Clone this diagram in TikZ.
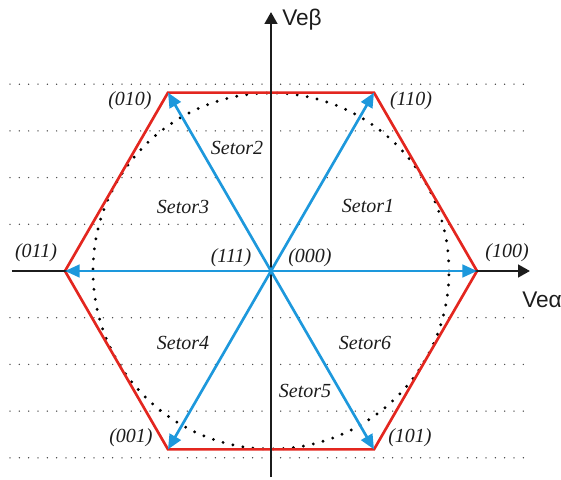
\documentclass[tikz,border=0pt]{standalone}
\usepackage{fontspec}
\setmainfont{Liberation Serif}
\setsansfont{Liberation Sans}
\usetikzlibrary{arrows.meta,positioning}
\definecolor{svRed}{HTML}{E3261F}
\definecolor{svBlue}{HTML}{1D98DC}
\definecolor{svInk}{HTML}{1C1C1C}
\definecolor{svDot}{HTML}{404040}
\tikzset{
  sv hexagon/.style={draw=svRed, line width=2pt, line join=miter},
  sv vector/.style={
    draw=svBlue,
    line width=2pt,
    -{Triangle[length=11pt,width=9.5pt]}
  },
  sv axis/.style={
    draw=svInk,
    line width=2pt,
    -{Triangle[length=9pt,width=9.5pt]}
  },
  sv grid/.style={
    draw=svDot,
    line width=1.1pt,
    line cap=round,
    dash pattern=on 0pt off 7pt
  },
  sv circle/.style={
    draw=black,
    line width=2.4pt,
    line cap=round,
    dash pattern=on 0pt off 7.6pt
  },
  sv state/.style={font=\itshape\fontsize{15}{18}\selectfont, text=svInk},
  sv sector/.style={font=\itshape\fontsize{15}{18}\selectfont, text=svInk},
  sv axis label/.style={font=\sffamily\fontsize{17}{20}\selectfont,
    text=svInk, anchor=west, inner sep=0pt}
}

\begin{document}
\begin{tikzpicture}[x=0.75pt,y=0.75pt]
  \useasboundingbox (-271,-208) rectangle (290,271);

  % grid of dotted lines
  \foreach \k in {1,2,3,4} {
    \draw[sv grid] (-261,46.7*\k) -- (254,46.7*\k);
    \draw[sv grid] (-261,-46.7*\k) -- (254,-46.7*\k);
  }
  \draw[sv circle] (0,0) circle (178);

  \coordinate (O) at (0,0);
  \coordinate (v100) at (0:206);
  \coordinate (v110) at (60:206);
  \coordinate (v010) at (120:206);
  \coordinate (v011) at (180:206);
  \coordinate (v001) at (240:206);
  \coordinate (v101) at (300:206);

  \draw[sv hexagon] (v100) -- (v110) -- (v010) -- (v011) -- (v001) -- (v101) -- cycle;

  % axes
  \coordinate (xstart) at (-259,0);
  \coordinate (xend) at (259,0);
  \coordinate (ystart) at (0,-206);
  \coordinate (yend) at (0,259);
  \draw[sv axis] (xstart) -- (xend);
  \draw[sv axis] (ystart) -- (yend);
  \node[sv axis label] (valpha) at (251,-29) {Veα};
  \node[sv axis label] (vbeta) at (11,251) {Veβ};

  \foreach \v in {v100,v110,v010,v011,v001,v101}
    \draw[sv vector] (O) -- (\v);

  % switching states
  \node[sv state] (s100) at (236,18) {(100)};
  \node[sv state] (s110) at (140,170) {(110)};
  \node[sv state] (s010) at (-141,170) {(010)};
  \node[sv state] (s011) at (-235,18) {(011)};
  \node[sv state] (s001) at (-140,-167) {(001)};
  \node[sv state] (s101) at (139,-167) {(101)};
  \node[sv state] (s111) at (-40,13) {(111)};
  \node[sv state] (s000) at (39,13) {(000)};

  % sectors
  \node[sv sector] (sec1) at (97,65) {Setor1};
  \node[sv sector] (sec2) at (-34,123) {Setor2};
  \node[sv sector] (sec3) at (-88,64) {Setor3};
  \node[sv sector] (sec4) at (-88,-72) {Setor4};
  \node[sv sector] (sec5) at (34,-120) {Setor5};
  \node[sv sector] (sec6) at (94,-72) {Setor6};
\end{tikzpicture}
\end{document}
